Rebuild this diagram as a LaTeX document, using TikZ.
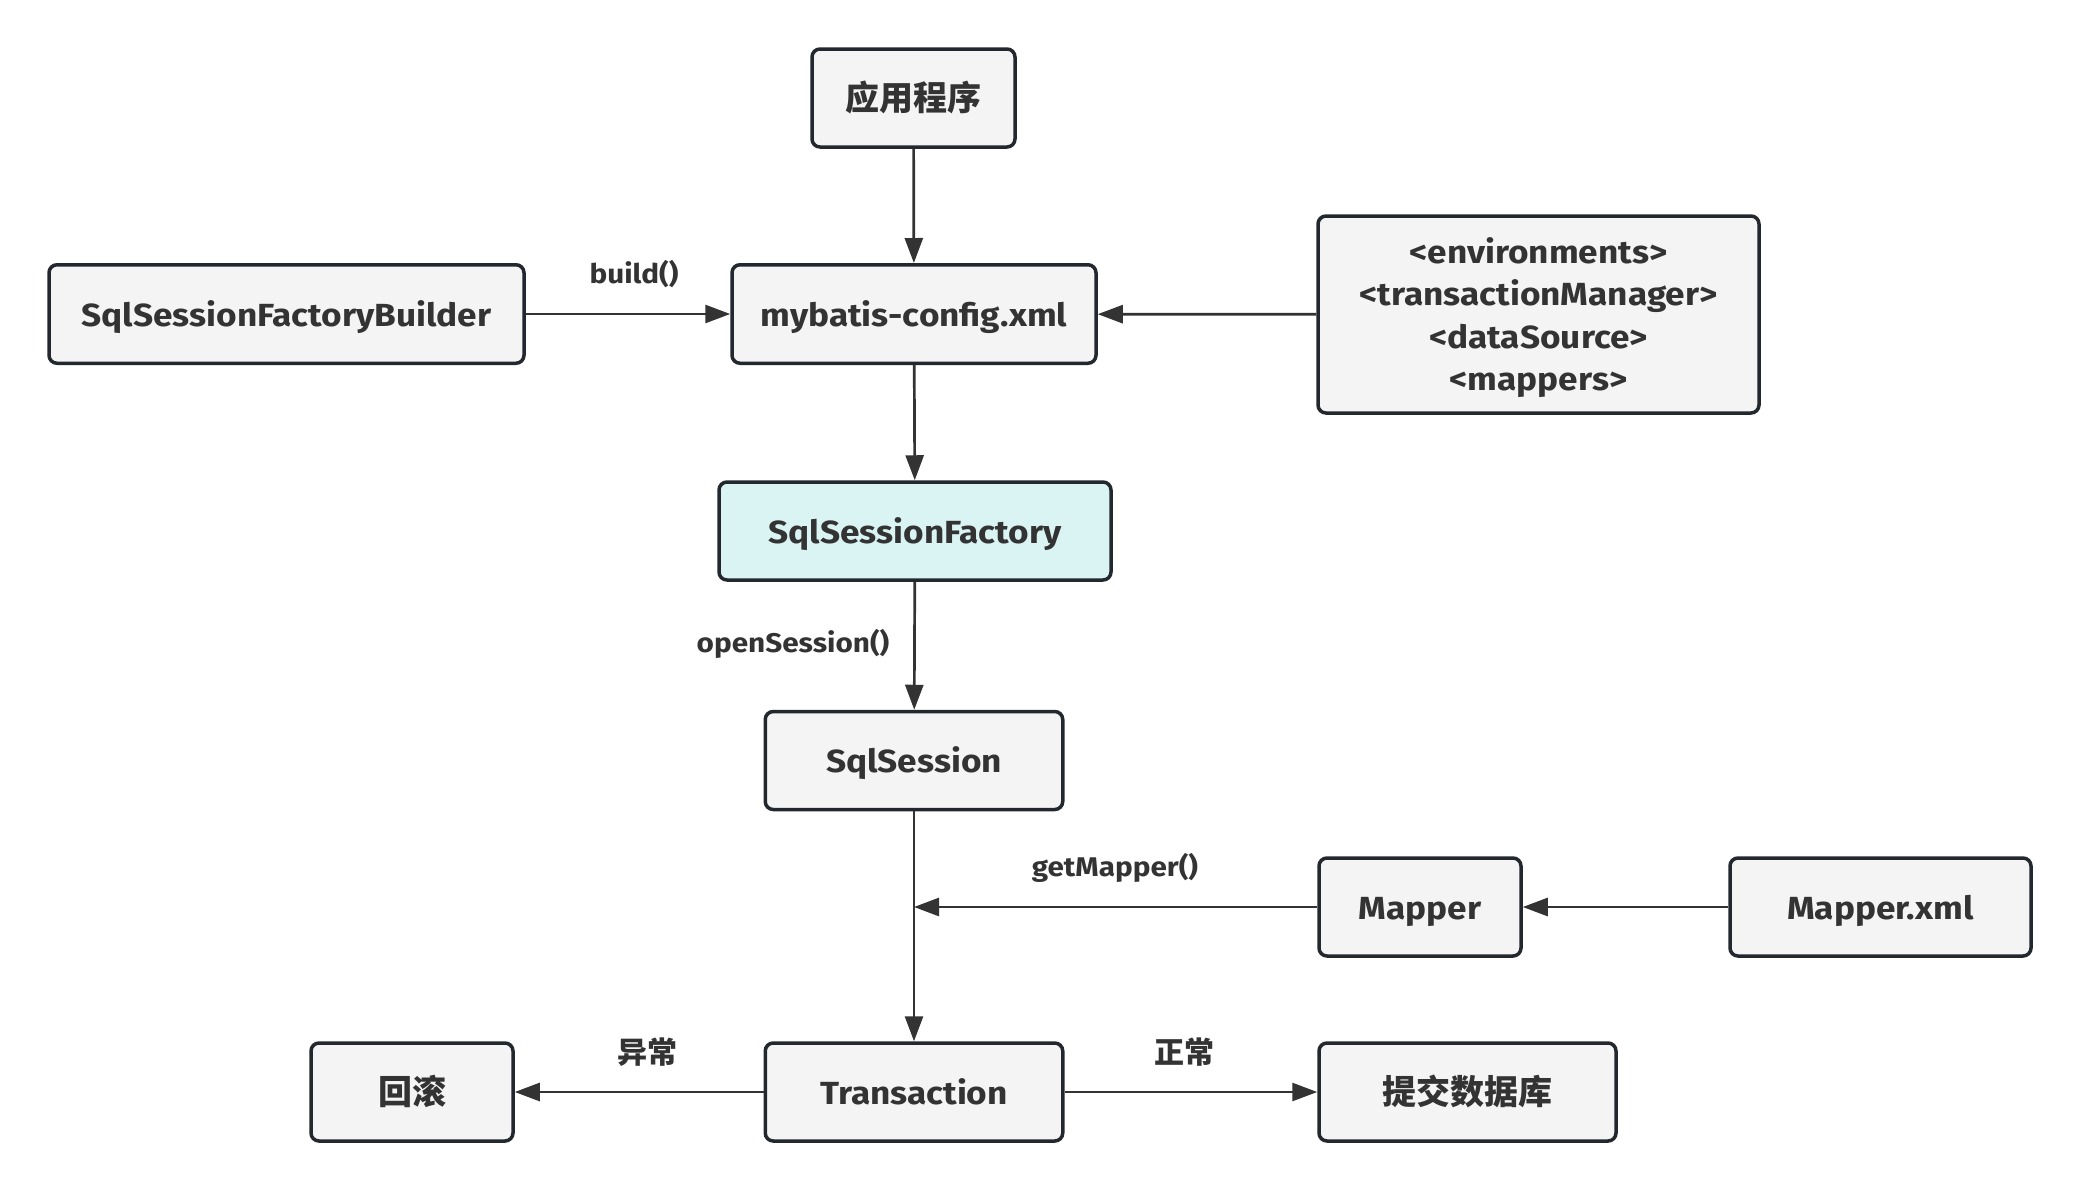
\documentclass[tikz,border=0pt]{standalone}
\usepackage{fontspec}
\setmainfont{Fira Sans}[FakeStretch=1.1]
\newfontfamily\cjk{Noto Sans CJK SC}
\usetikzlibrary{arrows.meta}
\definecolor{boxfill}{HTML}{F4F4F4}
\definecolor{cyanfill}{HTML}{DAF4F4}
\definecolor{boxline}{HTML}{22282E}
\definecolor{arrowc}{HTML}{333333}
\definecolor{textc}{HTML}{333333}
\begin{document}
\begin{tikzpicture}[x=0.5pt,y=-0.5pt,
  box/.style={draw=boxline, fill=boxfill, line width=1.75pt, rounded corners=4pt,
    inner sep=0pt, font=\fontsize{16pt}{21.3pt}\selectfont\bfseries, text=textc, align=center},
  onebox/.style={box, text height=12pt, text depth=0pt},
  cjkbox/.style={onebox, font=\fontsize{17pt}{21pt}\selectfont\cjk\bfseries},
  arr/.style={draw=arrowc, line width=1.35pt, -{Triangle[length=12.5pt,width=9pt]}},
  lbl/.style={font=\fontsize{13.5pt}{15pt}\selectfont\bfseries, text=textc, inner sep=0pt},
  cjklbl/.style={lbl, font=\fontsize{15pt}{17pt}\selectfont\cjk\bfseries}]
\useasboundingbox (0,0) rectangle (2079,1190);
\node[cjkbox, minimum width=101.5pt, minimum height=49pt] (app) at (913.5,98) {应用程序};
\node[onebox, minimum width=237.5pt, minimum height=49.25pt] (builder) at (286.5,314) {SqlSessionFactoryBuilder};
\node[onebox, minimum width=182pt, minimum height=49.25pt] (config) at (914,314) {mybatis-config.xml};
\node[box, minimum width=220.5pt, minimum height=98.5pt] (env) at (1538.5,314.5) {\rule{0pt}{16pt}<environments>\\<transactionManager>\\<dataSource>\\<mappers>};
\node[onebox, fill=cyanfill, minimum width=196pt, minimum height=49pt] (factory) at (915,531) {SqlSessionFactory};
\node[onebox, minimum width=148.75pt, minimum height=49pt] (session) at (914,760.5) {SqlSession};
\node[onebox, minimum width=101pt, minimum height=49pt] (mapper) at (1420,907) {Mapper};
\node[onebox, minimum width=150.5pt, minimum height=49pt] (mapperxml) at (1880.5,907) {Mapper.xml};
\node[onebox, minimum width=148.75pt, minimum height=49pt] (transaction) at (914,1092) {Transaction};
\node[cjkbox, minimum width=101pt, minimum height=49pt] (rollback) at (412,1092) {回滚};
\node[cjkbox, minimum width=148.5pt, minimum height=49pt] (commit) at (1467.5,1092) {提交数据库};

\coordinate (j) at (session.south |- mapper.west);

\draw[arr] (app) -- (config);
\draw[arr] (builder) -- (config);
\draw[arr] (env) -- (config);
\draw[arr] (config) -- (factory);
\draw[arr] (factory) -- (session);
\draw[arr] (session) -- (transaction);
\draw[arr] (mapper) -- (j);
\draw[arr] (mapperxml) -- (mapper);
\draw[arr] (transaction) -- (rollback);
\draw[arr] (transaction) -- (commit);

\node[lbl] (lbuild) at (634,274) {build()};
\node[lbl] (lopen) at (793,644) {openSession()};
\node[lbl] (lget) at (1115,868) {getMapper()};
\node[cjklbl] (lerr) at (647,1052) {异常};
\node[cjklbl] (lok) at (1184,1052) {正常};
\end{tikzpicture}
\end{document}
